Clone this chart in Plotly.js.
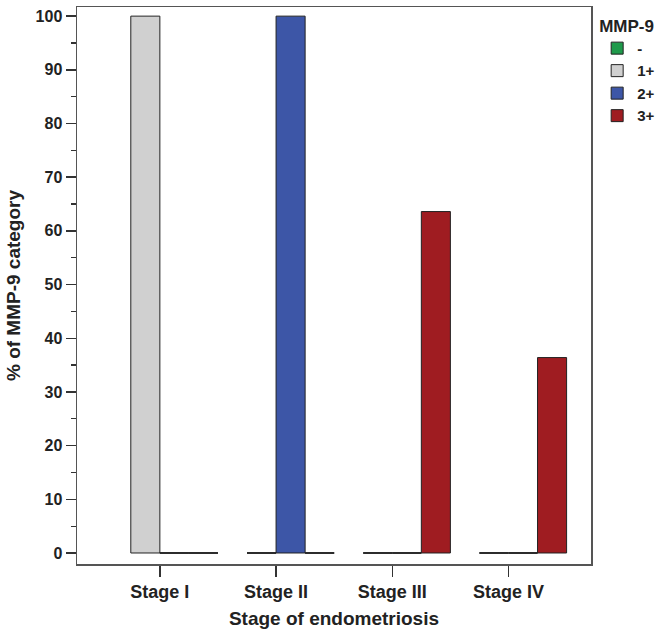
<!DOCTYPE html>
<html>
<head>
<meta charset="utf-8">
<script src="https://cdn.plot.ly/plotly-3.0.1.min.js"></script>
<style>html,body{margin:0;padding:0;background:#fff;}#chart{width:658px;height:630px;}</style>
</head>
<body>
<div id="chart"></div>
<script>
const stages = ['Stage I', 'Stage II', 'Stage III', 'Stage IV'];
const seriesNames = ['-', '1+', '2+', '3+'];
const valsMinus = [null, null, null, null];
const vals1plus = [100, 0, 0, 0];
const vals2plus = [0, 100, 0, 0];
const vals3plus = [0, 0, 63.6, 36.4];
const seriesColors = ['#1f9a4b', '#d0d0d0', '#3d56a7', '#9f1c21'];

const allVals = [valsMinus, vals1plus, vals2plus, vals3plus];
const nSeries = allVals.length;
const slot = 1 / nSeries;
const xIdx = stages.map((s, i) => i);
const FONT = 'Liberation Sans, Arial, Helvetica, sans-serif';

const traces = allVals.map((vals, k) => ({
  type: 'bar',
  name: seriesNames[k],
  x: xIdx,
  y: vals,
  offset: -0.5 + k * slot,
  width: slot,
  marker: {color: seriesColors[k], line: {color: '#222', width: 1}},
  hoverinfo: 'skip'
}));

// zero-valued bars are drawn as flat lines at 0 (as in the original)
const zx = [], zy = [];
allVals.forEach((vals, k) => {
  vals.forEach((v, i) => {
    if (v === 0) {
      zx.push(i - 0.5 + k * slot, i - 0.5 + (k + 1) * slot, null);
      zy.push(v, v, null);
    }
  });
});
traces.push({
  type: 'scatter', mode: 'lines', x: zx, y: zy,
  line: {color: '#222', width: 1.6},
  showlegend: false, hoverinfo: 'skip'
});

const layout = {
  width: 658, height: 630,
  margin: {l: 77, r: 67, t: 7, b: 66, autoexpand: false},
  paper_bgcolor: '#fff', plot_bgcolor: '#fff',
  barmode: 'overlay',
  font: {family: FONT, color: '#222', weight: 700},
  showlegend: true,
  legend: {
    x: 1.012, xanchor: 'left', y: 0.995, yanchor: 'top',
    font: {family: FONT, size: 15, color: '#222', weight: 700},
    title: {text: 'MMP-9', font: {family: FONT, size: 17, color: '#222', weight: 700}},
    traceorder: 'normal', tracegroupgap: 0, bgcolor: 'rgba(0,0,0,0)'
  },
  xaxis: {
    type: 'linear',
    range: [-0.713, 3.71],
    tickvals: xIdx, ticktext: stages,
    ticks: 'outside', ticklen: 11, tickwidth: 1.5, tickcolor: '#333',
    showline: true, linecolor: '#555', linewidth: 1.5, mirror: true,
    showgrid: false, zeroline: false,
    tickfont: {family: FONT, size: 18, color: '#222', weight: 700},
    title: {text: 'Stage of endometriosis', standoff: 10,
            font: {family: FONT, size: 19, color: '#222', weight: 700}}
  },
  yaxis: {
    range: [-2.05, 101.7],
    tickmode: 'linear', tick0: 0, dtick: 10,
    ticks: 'outside', ticklen: 10, tickwidth: 1.5, tickcolor: '#333',
    minor: {dtick: 5, ticks: 'outside', ticklen: 5, tickwidth: 1.2, tickcolor: '#333', showgrid: false},
    showline: true, linecolor: '#555', linewidth: 1.5, mirror: true,
    showgrid: false, zeroline: false,
    tickfont: {family: FONT, size: 16, color: '#222', weight: 700},
    title: {text: '% of MMP-9 category', standoff: 10,
            font: {family: FONT, size: 19, color: '#222', weight: 700}}
  }
};

Plotly.newPlot('chart', traces, layout, {displayModeBar: false, staticPlot: true});
</script>
</body>
</html>
